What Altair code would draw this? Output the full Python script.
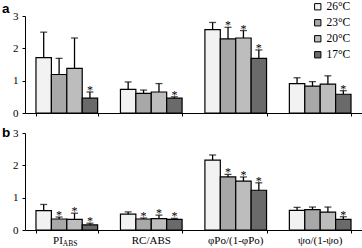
import altair as alt
import pandas as pd

params = ["PI_ABS", "RC/ABS", "φPo/(1-φPo)", "ψo/(1-ψo)"]
temps = ["26°C", "23°C", "20°C", "17°C"]
fills = ["#f2f2f2", "#a8a8a8", "#bdbdbd", "#6a6a6a"]

# panel a: means, upper SD, significance
a_26 = [1.71, 0.73, 2.58, 0.91]
a_23 = [1.19, 0.61, 2.29, 0.83]
a_20 = [1.38, 0.65, 2.32, 0.89]
a_17 = [0.46, 0.46, 1.69, 0.58]
a_sd26 = [0.79, 0.23, 0.22, 0.18]
a_sd23 = [0.50, 0.10, 0.36, 0.14]
a_sd20 = [0.94, 0.26, 0.23, 0.26]
a_sd17 = [0.19, 0.04, 0.26, 0.11]
a_sig26 = [0, 0, 0, 0]
a_sig23 = [0, 0, 1, 0]
a_sig20 = [0, 0, 1, 0]
a_sig17 = [1, 1, 1, 1]

# panel b
b_26 = [0.60, 0.49, 2.16, 0.61]
b_23 = [0.34, 0.34, 1.64, 0.63]
b_20 = [0.33, 0.35, 1.51, 0.55]
b_17 = [0.16, 0.33, 1.23, 0.33]
b_sd26 = [0.19, 0.07, 0.16, 0.09]
b_sd23 = [0.06, 0.03, 0.08, 0.08]
b_sd20 = [0.19, 0.11, 0.13, 0.16]
b_sd17 = [0.05, 0.03, 0.23, 0.08]
b_sig26 = [0, 0, 0, 0]
b_sig23 = [1, 1, 1, 0]
b_sig20 = [1, 1, 1, 0]
b_sig17 = [1, 1, 1, 1]

y_ticks = [0, 1, 2, 3]

SERIF = "Liberation Serif"
W, H = 337, 97


def make_df(means, sds, sigs):
    rows = []
    for t, m, s, g in zip(temps, means, sds, sigs):
        for p, mv, sv, gv in zip(params, m, s, g):
            rows.append({"param": p, "temp": t, "mean": mv, "top": mv + sv, "sig": gv})
    return pd.DataFrame(rows)


df_a = make_df([a_26, a_23, a_20, a_17], [a_sd26, a_sd23, a_sd20, a_sd17],
               [a_sig26, a_sig23, a_sig20, a_sig17])
df_b = make_df([b_26, b_23, b_20, b_17], [b_sd26, b_sd23, b_sd20, b_sd17],
               [b_sig26, b_sig23, b_sig20, b_sig17])


def yaxis():
    return alt.Axis(title=None, values=y_ticks, tickCount=4, tickSize=3, labelPadding=4,
                    labelOverlap=False, labelFlush=False)


def panel(df, letter, letter_y, show_legend, show_labels):
    xs = alt.X("param:N", sort=params,
               scale=alt.Scale(paddingInner=0.27, paddingOuter=0.13),
               axis=alt.Axis(title=None, labels=False, tickBand="extent", tickSize=3))
    xo = alt.XOffset("temp:N", sort=temps, scale=alt.Scale(paddingInner=0, paddingOuter=0))
    yscale = alt.Scale(domain=[0, 3])
    if show_legend:
        leg = alt.Legend(title=None, orient="none", legendX=287, legendY=-15,
                         symbolType="square", symbolSize=40, symbolStrokeColor="black",
                         symbolStrokeWidth=1, labelFont=SERIF, labelFontSize=11.5,
                         rowPadding=3, labelOffset=3)
    else:
        leg = None
    fill = alt.Fill("temp:N", sort=temps, scale=alt.Scale(domain=temps, range=fills), legend=leg)
    base = alt.Chart(df)
    bars = base.mark_bar(stroke="black", strokeWidth=1.2).encode(
        x=xs, xOffset=xo, y=alt.Y("mean:Q", scale=yscale, axis=yaxis()), fill=fill)
    rules = base.mark_rule(color="black", strokeWidth=1.3).encode(
        x=alt.X("param:N", sort=params), xOffset=alt.XOffset("temp:N", sort=temps),
        y=alt.Y("mean:Q", scale=yscale, axis=yaxis()), y2="top:Q")
    caps = base.mark_tick(color="black", thickness=1.3, size=7, orient="horizontal").encode(
        x=alt.X("param:N", sort=params), xOffset=alt.XOffset("temp:N", sort=temps),
        y=alt.Y("top:Q", scale=yscale, axis=yaxis()))
    stars = base.transform_filter("datum.sig == 1").mark_text(
        text="*", font=SERIF, fontSize=12, baseline="alphabetic", dy=2, color="black").encode(
        x=alt.X("param:N", sort=params), xOffset=alt.XOffset("temp:N", sort=temps),
        y=alt.Y("top:Q", scale=yscale, axis=yaxis()))
    let = alt.Chart(pd.DataFrame({"t": [letter]})).mark_text(
        font="Liberation Sans", fontWeight="bold", fontSize=13.5, align="left",
        baseline="alphabetic", color="black").encode(
        text="t:N", x=alt.value(-23), y=alt.value(letter_y))
    layers = [bars, rules, caps, stars, let]
    if show_labels:
        ldf = pd.DataFrame({"param": params[1:], "txt": params[1:]})
        main = alt.Chart(ldf).mark_text(font=SERIF, fontSize=11, baseline="middle",
                                        color="black").encode(
            x=alt.X("param:N", sort=params), text="txt:N", y=alt.value(H + 11))
        pdf = pd.DataFrame({"param": [params[0]], "t1": ["PI"], "t2": ["ABS"]})
        pi = alt.Chart(pdf).mark_text(font=SERIF, fontSize=11, baseline="middle",
                                      align="right", dx=-4, color="black").encode(
            x=alt.X("param:N", sort=params), text="t1:N", y=alt.value(H + 11))
        sub = alt.Chart(pdf).mark_text(font=SERIF, fontSize=7.5, baseline="middle",
                                       align="left", dx=-4, color="black").encode(
            x=alt.X("param:N", sort=params), text="t2:N", y=alt.value(H + 14))
        layers += [main, pi, sub]
    return alt.layer(*layers).properties(width=W, height=H)


pa = panel(df_a, "a", -3, True, False)
pb = panel(df_b, "b", 4, False, True)

chart = alt.vconcat(pa, pb, spacing=20, bounds="flush").resolve_scale(
    fill="independent").properties(
    padding={"left": 2, "top": 1, "right": 0, "bottom": 0}
).configure_view(stroke=None).configure_axis(
    grid=False, domainColor="black", tickColor="black", labelColor="black",
    labelFont=SERIF, labelFontSize=11, domainWidth=1, tickWidth=1
)

chart.save("out.html", embed_options={"renderer": "svg", "actions": False})
